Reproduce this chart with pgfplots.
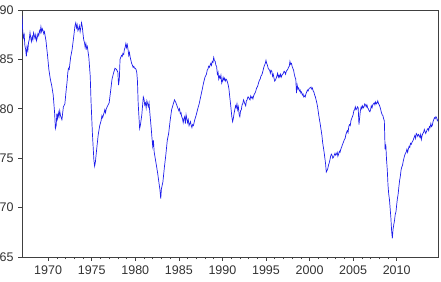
\documentclass[border=0pt]{standalone}
\usepackage{fontspec}
\setmainfont{Liberation Sans}
\usepackage{pgfplots}
\pgfplotsset{compat=1.18}
\definecolor{axgray}{RGB}{64,64,64}
\definecolor{lineblue}{RGB}{30,30,235}
\begin{document}
\fontsize{12.5}{15}\selectfont
\begin{tikzpicture}
\begin{axis}[
  scale only axis,
  width=416pt, height=247pt,
  xmin=1967.0, xmax=2014.74,
  ymin=65, ymax=90,
  xtick={1970,1975,...,2010},
  minor x tick num=4,
  ytick={65,70,...,90},
  xtick pos=bottom, ytick pos=left,
  tick align=outside,
  major tick length=4pt,
  minor tick length=2.5pt,
  axis line style={axgray, line width=0.8pt},
  tick style={axgray, line width=0.6pt},
  ticklabel style={font=\fontsize{12.5}{15}\selectfont, text=black!80},
  /pgf/number format/1000 sep={},
  /pgf/number format/assume math mode=true,
  clip=true,
]
\addplot[lineblue, line width=0.7pt, mark=none] coordinates {
(1967.00,89.4)(1967.08,87.9)(1967.17,87.2)(1967.25,87.5)(1967.33,86.4)(1967.42,86.0)(1967.50,85.3)(1967.58,86.3)(1967.67,85.9)(1967.75,86.7)(1967.83,87.0)(1967.92,87.7)
(1968.00,87.2)(1968.08,86.8)(1968.17,87.3)(1968.25,87.0)(1968.33,87.7)(1968.42,87.4)(1968.50,87.1)(1968.58,87.5)(1968.67,86.9)(1968.75,87.2)(1968.83,87.6)(1968.92,87.4)
(1969.00,87.9)(1969.08,87.7)(1969.17,88.3)(1969.25,87.8)(1969.33,88.1)(1969.42,87.9)(1969.50,87.6)(1969.58,87.8)(1969.67,87.3)(1969.75,86.9)(1969.83,86.2)(1969.92,85.5)
(1970.08,84.0)(1970.25,83.0)(1970.42,82.3)(1970.58,81.4)(1970.75,79.5)(1970.83,78.0)(1970.92,78.3)
(1971.00,79.5)(1971.08,79.0)(1971.17,79.6)(1971.25,79.2)(1971.33,79.8)(1971.42,79.3)(1971.50,79.1)(1971.58,78.9)(1971.67,79.6)(1971.75,80.2)(1971.92,80.5)
(1972.08,82.0)(1972.17,82.7)(1972.25,83.6)(1972.33,84.1)(1972.42,84.0)(1972.50,84.6)(1972.58,85.2)(1972.75,86.0)(1972.92,87.2)
(1973.08,88.4)(1973.17,88.7)(1973.25,88.2)(1973.33,88.5)(1973.42,87.9)(1973.50,88.1)(1973.58,88.4)(1973.67,87.8)(1973.75,88.2)(1973.83,88.7)(1973.92,88.3)
(1974.00,87.6)(1974.08,87.0)(1974.17,86.7)(1974.25,86.2)(1974.33,86.6)(1974.42,86.1)(1974.50,86.3)(1974.67,85.2)(1974.83,83.3)(1974.92,80.8)
(1975.08,77.5)(1975.25,74.8)(1975.33,74.2)(1975.42,74.6)(1975.58,76.0)(1975.75,77.4)(1975.92,78.3)
(1976.08,78.8)(1976.17,79.3)(1976.25,79.1)(1976.42,79.6)(1976.50,79.9)(1976.58,79.6)(1976.67,80.0)(1976.83,80.3)
(1977.00,80.6)(1977.17,81.8)(1977.33,83.0)(1977.50,83.6)(1977.67,84.1)(1977.83,84.0)
(1978.00,83.7)(1978.08,82.4)(1978.17,83.0)(1978.25,85.0)(1978.33,85.2)(1978.42,85.4)(1978.50,85.3)(1978.58,85.6)(1978.67,85.5)(1978.75,86.0)(1978.83,86.2)(1978.92,86.6)
(1979.00,86.2)(1979.08,86.5)(1979.17,86.0)(1979.25,85.4)(1979.33,85.7)(1979.42,85.2)(1979.50,84.9)(1979.58,84.6)(1979.67,84.4)(1979.75,84.2)(1979.83,84.3)(1979.92,84.1)
(1980.00,84.1)(1980.08,84.0)(1980.17,83.7)(1980.25,82.8)(1980.33,80.6)(1980.42,79.2)(1980.50,78.0)(1980.58,78.3)(1980.75,79.4)(1980.92,81.2)
(1981.00,81.0)(1981.08,80.4)(1981.17,80.6)(1981.25,80.1)(1981.33,80.8)(1981.42,80.5)(1981.50,80.2)(1981.58,80.6)(1981.67,79.6)(1981.83,78.0)(1981.92,77.0)
(1982.00,76.2)(1982.08,76.8)(1982.17,75.6)(1982.25,75.2)(1982.42,74.3)(1982.58,73.4)(1982.75,72.3)(1982.83,71.8)(1982.92,70.9)
(1983.00,71.9)(1983.17,72.6)(1983.33,74.0)(1983.50,75.3)(1983.67,76.8)(1983.83,77.5)
(1984.00,78.8)(1984.17,79.9)(1984.33,80.4)(1984.50,80.9)(1984.67,80.6)(1984.83,80.2)
(1985.00,79.8)(1985.08,80.0)(1985.17,79.5)(1985.25,79.6)(1985.33,79.2)(1985.42,79.0)(1985.50,78.6)(1985.58,79.0)(1985.67,79.2)(1985.75,78.5)(1985.83,79.4)(1985.92,79.0)
(1986.00,78.6)(1986.08,78.9)(1986.17,78.3)(1986.25,78.5)(1986.33,78.7)(1986.42,78.3)(1986.50,78.1)(1986.58,78.4)(1986.67,78.3)(1986.83,78.9)
(1987.00,79.4)(1987.17,80.0)(1987.33,80.5)(1987.50,81.2)(1987.67,81.9)(1987.83,82.6)
(1988.00,83.2)(1988.17,83.5)(1988.25,83.9)(1988.33,84.0)(1988.42,84.3)(1988.50,84.2)(1988.58,84.4)(1988.67,84.6)(1988.75,84.4)(1988.83,84.8)(1988.92,84.7)
(1989.00,85.2)(1989.08,84.9)(1989.17,84.8)(1989.25,84.4)(1989.33,84.3)(1989.42,83.5)(1989.50,83.7)(1989.58,83.0)(1989.67,83.3)(1989.75,83.1)(1989.83,83.4)(1989.92,82.6)
(1990.00,82.8)(1990.08,83.2)(1990.17,82.9)(1990.25,83.1)(1990.33,82.8)(1990.42,83.0)(1990.50,82.9)(1990.58,82.7)(1990.67,82.4)(1990.75,82.0)(1990.83,81.3)(1990.92,80.6)
(1991.00,79.9)(1991.08,79.2)(1991.17,78.7)(1991.25,79.0)(1991.33,79.5)(1991.42,79.9)(1991.50,80.3)(1991.58,80.1)(1991.67,80.5)(1991.75,79.9)(1991.83,80.2)(1991.92,79.4)
(1992.00,79.2)(1992.08,79.8)(1992.17,79.9)(1992.25,80.4)(1992.33,80.5)(1992.42,80.9)(1992.50,80.7)(1992.58,80.5)(1992.67,80.3)(1992.75,80.8)(1992.83,80.9)(1992.92,81.2)
(1993.00,81.2)(1993.08,81.0)(1993.17,80.9)(1993.25,81.3)(1993.33,81.1)(1993.42,81.2)(1993.50,81.0)(1993.58,81.3)(1993.67,81.5)(1993.75,81.6)(1993.83,81.8)(1993.92,82.1)
(1994.00,82.2)(1994.08,82.4)(1994.17,82.7)(1994.25,82.9)(1994.33,83.0)(1994.42,83.3)(1994.50,83.4)(1994.58,83.6)(1994.67,83.9)(1994.75,84.2)(1994.83,84.4)(1994.92,84.6)
(1995.00,84.9)(1995.08,84.6)(1995.17,84.4)(1995.25,84.1)(1995.33,84.0)(1995.42,83.9)(1995.50,83.6)(1995.58,83.9)(1995.67,83.8)(1995.75,83.3)(1995.83,83.5)(1995.92,83.1)
(1996.00,82.8)(1996.08,82.9)(1996.17,83.1)(1996.25,83.3)(1996.33,83.6)(1996.42,83.2)(1996.50,83.4)(1996.58,83.2)(1996.67,83.5)(1996.75,83.2)(1996.83,83.4)(1996.92,83.5)
(1997.00,83.6)(1997.08,83.8)(1997.17,83.7)(1997.25,83.5)(1997.33,83.8)(1997.42,83.9)(1997.50,84.0)(1997.58,84.2)(1997.67,84.3)(1997.75,84.8)(1997.83,84.5)(1997.92,84.6)
(1998.00,84.3)(1998.08,84.1)(1998.17,83.9)(1998.25,83.5)(1998.33,83.2)(1998.42,83.0)(1998.50,81.6)(1998.58,82.4)(1998.67,82.0)(1998.75,82.1)(1998.83,81.8)(1998.92,81.9)
(1999.00,81.6)(1999.08,81.7)(1999.17,81.4)(1999.25,81.5)(1999.33,81.2)(1999.42,81.3)(1999.50,81.2)(1999.58,81.5)(1999.67,81.7)(1999.75,81.9)(1999.83,81.8)(1999.92,82.0)
(2000.00,82.1)(2000.08,82.1)(2000.17,82.2)(2000.25,82.0)(2000.33,82.1)(2000.42,81.8)(2000.50,81.7)(2000.58,81.4)(2000.67,81.2)(2000.75,80.9)(2000.83,80.6)(2000.92,80.2)
(2001.08,79.2)(2001.25,78.3)(2001.42,77.3)(2001.50,76.6)(2001.67,75.6)(2001.83,74.5)(2001.92,73.6)
(2002.08,73.9)(2002.17,74.3)(2002.25,74.5)(2002.33,74.8)(2002.42,75.2)(2002.50,75.4)(2002.58,75.3)(2002.67,75.0)(2002.75,75.1)(2002.83,75.3)(2002.92,75.5)
(2003.00,75.3)(2003.08,75.4)(2003.17,75.6)(2003.25,75.2)(2003.33,75.4)(2003.42,75.7)(2003.50,75.6)(2003.58,75.9)(2003.67,76.1)(2003.75,76.3)(2003.83,76.5)(2003.92,76.7)
(2004.00,76.9)(2004.08,77.0)(2004.17,77.4)(2004.25,77.6)(2004.33,77.8)(2004.42,77.6)(2004.50,78.2)(2004.58,78.4)(2004.67,78.3)(2004.75,78.8)(2004.83,79.0)(2004.92,79.2)
(2005.00,79.4)(2005.08,79.8)(2005.17,79.9)(2005.25,80.2)(2005.33,79.9)(2005.42,80.0)(2005.50,80.2)(2005.58,80.1)(2005.67,78.4)(2005.75,79.1)(2005.83,79.8)(2005.92,80.2)
(2006.00,80.0)(2006.08,80.3)(2006.17,80.1)(2006.25,80.2)(2006.33,80.5)(2006.42,80.4)(2006.50,80.2)(2006.58,80.4)(2006.67,80.1)(2006.75,80.0)(2006.83,79.8)(2006.92,79.7)
(2007.00,79.9)(2007.08,80.3)(2007.17,80.1)(2007.25,80.4)(2007.33,80.5)(2007.42,80.6)(2007.50,80.4)(2007.58,80.7)(2007.67,80.5)(2007.75,80.6)(2007.83,80.8)(2007.92,80.5)
(2008.00,80.4)(2008.08,80.2)(2008.17,79.9)(2008.25,79.6)(2008.33,79.4)(2008.42,79.3)(2008.50,79.0)(2008.58,78.8)(2008.67,75.9)(2008.75,76.4)(2008.83,74.9)(2008.92,73.8)
(2009.00,72.3)(2009.08,71.4)(2009.17,70.8)(2009.25,69.9)(2009.33,69.0)(2009.42,67.6)(2009.50,66.9)(2009.58,67.8)(2009.67,68.3)(2009.75,68.7)(2009.83,69.3)(2009.92,69.6)
(2010.00,70.3)(2010.08,70.9)(2010.17,71.4)(2010.25,72.1)(2010.33,72.7)(2010.42,73.2)(2010.50,73.8)(2010.58,74.1)(2010.67,74.3)(2010.75,74.7)(2010.83,75.0)(2010.92,75.3)
(2011.00,75.5)(2011.08,75.6)(2011.17,75.9)(2011.25,75.6)(2011.33,75.9)(2011.42,76.2)(2011.50,76.1)(2011.58,76.5)(2011.67,76.4)(2011.75,76.6)(2011.83,76.7)(2011.92,76.9)
(2012.00,77.1)(2012.08,77.3)(2012.17,77.0)(2012.25,77.5)(2012.33,77.4)(2012.42,77.2)(2012.50,77.4)(2012.58,77.3)(2012.67,77.1)(2012.75,77.4)(2012.83,76.9)(2012.92,77.3)
(2013.00,77.5)(2013.08,77.6)(2013.17,77.9)(2013.25,77.7)(2013.33,77.5)(2013.42,77.7)(2013.50,77.9)(2013.58,78.0)(2013.67,77.8)(2013.75,78.2)(2013.83,78.1)(2013.92,78.5)
(2014.00,78.2)(2014.08,78.3)(2014.17,78.7)(2014.25,78.9)(2014.33,79.1)(2014.42,79.0)(2014.50,79.2)(2014.58,79.1)(2014.67,78.8)(2014.74,78.9)
};
\end{axis}
\pgfresetboundingbox
\path[use as bounding box] ([xshift=-22pt,yshift=-25pt]current axis.south west) rectangle ([xshift=3pt,yshift=10pt]current axis.north east);
\end{tikzpicture}
\end{document}
